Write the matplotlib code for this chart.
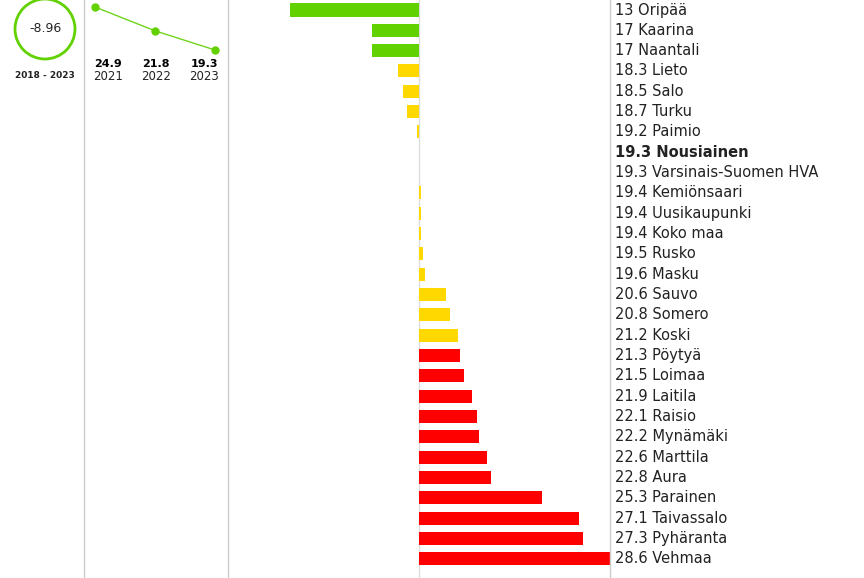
import matplotlib
matplotlib.use("Agg")
import matplotlib.pyplot as plt
from matplotlib.lines import Line2D
from matplotlib.patches import Ellipse

# ---------------- data ----------------
areas = ["Oripää", "Kaarina", "Naantali", "Lieto", "Salo", "Turku", "Paimio",
         "Nousiainen", "Varsinais-Suomen HVA", "Kemiönsaari", "Uusikaupunki",
         "Koko maa", "Rusko", "Masku", "Sauvo", "Somero", "Koski", "Pöytyä",
         "Loimaa", "Laitila", "Raisio", "Mynämäki", "Marttila", "Aura",
         "Parainen", "Taivassalo", "Pyhäranta", "Vehmaa"]
values = [13, 17, 17, 18.3, 18.5, 18.7, 19.2, 19.3, 19.3, 19.4, 19.4, 19.4,
          19.5, 19.6, 20.6, 20.8, 21.2, 21.3, 21.5, 21.9, 22.1, 22.2, 22.6,
          22.8, 25.3, 27.1, 27.3, 28.6]
highlight = "Nousiainen"

trend_years = ["2021", "2022", "2023"]
trend_values = [24.9, 21.8, 19.3]
change_value = "-8.96"
change_period = "2018 - 2023"

GREEN = "#62d100"
LINE_GREEN = "#6fd41a"
YELLOW = "#ffd800"
RED = "#ff0000"
GRID = "#cccccc"
TXT = "#222222"

W, H = 864, 578


def px(x, y):
    """pixel (from top-left) -> figure fraction"""
    return x / W, 1 - y / H


def bar_color(v):
    if v < 18:
        return GREEN
    if v <= 21.2:
        return YELLOW
    return RED


fig = plt.figure(figsize=(W / 100, H / 100), dpi=100)

# ---------------- bar panel ----------------
base = values[areas.index(highlight)]
span = max(abs(v - base) for v in values)
pitch = 20.33
ax = fig.add_axes([228 / W, 0, (610 - 228) / W, 1])
rows = range(len(areas))
diffs = [v - base for v in values]
ax.barh(list(rows), diffs, height=0.64, color=[bar_color(v) for v in values])
ax.set_xlim(-span, span)
ax.set_ylim((H - 10) / pitch, -10 / pitch)
ax.axvline(0, color="#dddddd", lw=1, zorder=0)
for s in ("top", "bottom"):
    ax.spines[s].set_visible(False)
for s in ("left", "right"):
    ax.spines[s].set_color(GRID)
    ax.spines[s].set_linewidth(1)
ax.set_xticks([])
ax.set_yticks([])

for i, (name, v) in enumerate(zip(areas, values)):
    ax.text(1.013, i, f"{v:g} {name}", transform=ax.get_yaxis_transform(),
            va="center", ha="left", fontsize=10.5, color=TXT,
            fontweight="bold" if name == highlight else "normal")

# separator between circle and sparkline
fig.add_artist(Line2D([84 / W, 84 / W], [0, 1], color=GRID, lw=1))

# ---------------- change circle ----------------
cx, cy = px(45, 29)
fig.add_artist(Ellipse((cx, cy), 60 / W, 60 / H, fill=False,
                       edgecolor=GREEN, lw=2))
fig.text(cx, cy, change_value, ha="center", va="center", fontsize=9, color=TXT)
fig.text(*px(45, 75), change_period, ha="center", va="center", fontsize=6.5,
         fontweight="bold", color=TXT)

# ---------------- sparkline ----------------
sp = fig.add_axes([95 / W, (H - 50) / H, 120 / W, 43 / H])
sp.plot(range(len(trend_values)), trend_values, color=LINE_GREEN, lw=1,
        marker="o", ms=5, mfc=GREEN, mec=GREEN, clip_on=False)
sp.set_xlim(0, len(trend_values) - 1)
sp.set_ylim(min(trend_values), max(trend_values))
sp.axis("off")

label_x = [108, 156, 204]
for lx, yr, v in zip(label_x, trend_years, trend_values):
    fig.text(*px(lx, 64), f"{v:g}", ha="center", va="center", fontsize=8,
             fontweight="bold", color="black")
    fig.text(*px(lx, 76), yr, ha="center", va="center", fontsize=8.5, color=TXT)

fig.savefig("out.png", dpi=100)
